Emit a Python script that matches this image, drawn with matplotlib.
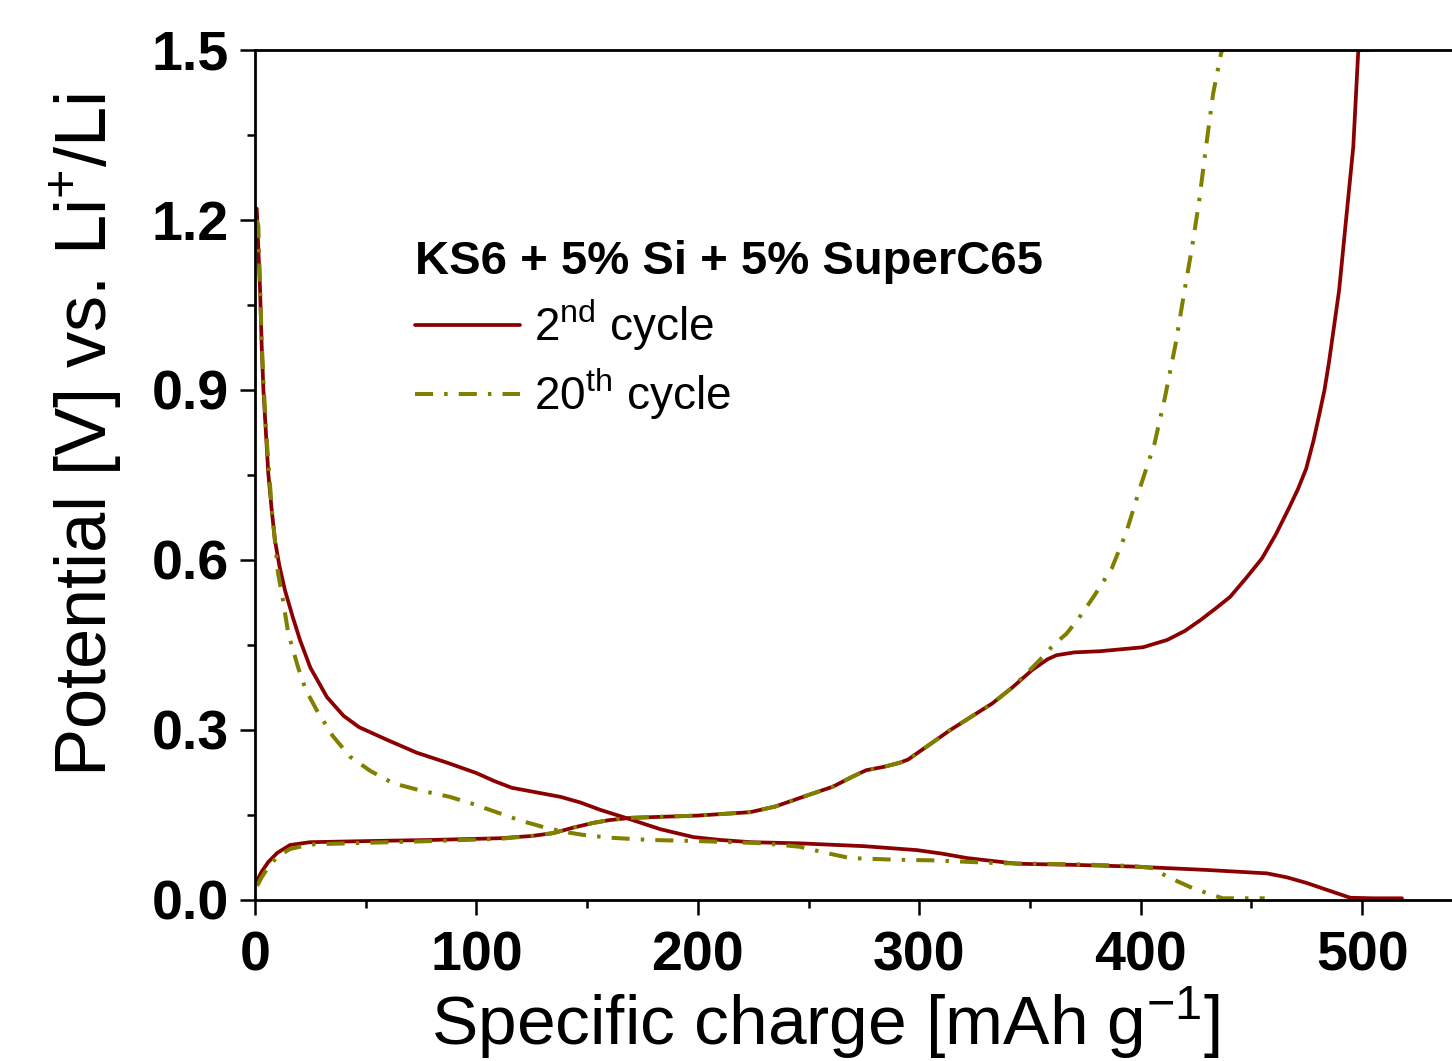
import matplotlib
matplotlib.use("Agg")
import matplotlib.pyplot as plt
from matplotlib.ticker import MultipleLocator

plt.rcParams['font.family'] = ['Liberation Sans', 'DejaVu Sans']
plt.rcParams['mathtext.fontset'] = 'custom'
plt.rcParams['mathtext.rm'] = 'Liberation Sans'
plt.rcParams['mathtext.it'] = 'Liberation Sans:italic'
plt.rcParams['mathtext.bf'] = 'Liberation Sans:bold'
plt.rcParams['lines.scale_dashes'] = False

# ---- data: 2nd cycle (red) ----
c2_dis_x = [0.8, 1.5, 2.3, 3, 3.8, 5, 6, 7.5, 9, 11, 13.5, 17, 20.3, 25, 32.5, 40, 47, 60, 73, 87, 100, 108, 116,
            127, 138, 147, 156, 169, 183, 198, 210, 224,
            246, 275, 299, 310, 321.6, 344, 370, 396.6, 430, 457, 466, 475, 484, 494.6, 505, 518]
c2_dis_y = [1.22, 1.15, 1.076, 0.98, 0.9, 0.82, 0.753, 0.69, 0.635, 0.59, 0.547, 0.5, 0.459, 0.41, 0.358, 0.325, 0.305, 0.282, 0.26, 0.242, 0.224, 0.21, 0.198,
            0.19, 0.182, 0.172, 0.159, 0.143, 0.125, 0.111, 0.106, 0.102,
            0.100, 0.095, 0.088, 0.082, 0.074, 0.064, 0.062, 0.059, 0.053, 0.047, 0.04, 0.03, 0.018, 0.004, 0.003, 0.003]
c2_ch_x = [1, 3, 6, 10, 15.8, 24.8, 50.6, 80, 110.6, 125, 134.6, 144, 152.7, 160, 170, 200, 223.6, 235, 246, 261, 270, 276,
           284, 291, 295, 299, 306, 314, 333, 342, 351, 358, 362, 370, 381.6, 401, 412, 420, 427, 434, 440.4, 448, 454.8,
           461, 467, 471, 474.7, 478, 480.6, 483, 485.1, 489.6, 492.8, 496, 498.2, 498.5, 502.7]
c2_ch_y = [0.035, 0.05, 0.067, 0.083, 0.097, 0.102, 0.104, 0.106, 0.109, 0.113, 0.118, 0.128, 0.136, 0.141, 0.145, 0.149, 0.155, 0.165, 0.18, 0.2, 0.218, 0.229,
           0.235, 0.242, 0.248, 0.259, 0.278, 0.3, 0.347, 0.375, 0.406, 0.425, 0.432, 0.437, 0.439, 0.446, 0.459, 0.475, 0.494, 0.515, 0.535, 0.57, 0.603,
           0.645, 0.692, 0.725, 0.761, 0.81, 0.856, 0.9, 0.951, 1.076, 1.203, 1.329, 1.495, 1.5, 1.5]

# ---- data: 20th cycle (olive) ----
c20_dis_x = [0.8, 1.5, 3, 4, 5.3, 7.5, 10.4, 12.6, 15, 19.5, 23, 27.9, 35, 42.9, 52, 62.4, 75, 88, 98, 109, 120, 130, 140, 148,
             160, 178, 200, 216, 230, 246, 258, 268.7, 290, 306, 336, 370, 396.6, 405.6, 412, 424, 437, 456]
c20_dis_y = [1.2, 1.19, 0.988, 0.9, 0.812, 0.694, 0.577, 0.53, 0.471, 0.41, 0.37, 0.335, 0.29, 0.253, 0.228, 0.206, 0.193, 0.182, 0.17, 0.155, 0.14, 0.129, 0.12, 0.115,
             0.11, 0.106, 0.104, 0.102, 0.1, 0.094, 0.083, 0.074, 0.071, 0.07, 0.065, 0.063, 0.06, 0.056, 0.041, 0.02, 0.003, 0.003]
c20_ch_x = [1, 3, 6, 10, 15.8, 24.8, 50.6, 80, 110.6, 125, 134.6, 144, 152.7, 160, 170, 200, 223.6, 235, 246, 261, 270, 276,
            284, 291, 295, 299, 306, 314, 333, 342, 351, 356, 360.6, 366.5, 372, 378.7, 386.9, 393.4, 399.9, 406.2, 411,
            415.8, 419.8, 423.2, 426.4, 429.5, 432.7, 436.4, 437]
c20_ch_y = [0.025, 0.04, 0.058, 0.076, 0.09, 0.098, 0.101, 0.104, 0.108, 0.113, 0.118, 0.128, 0.136, 0.141, 0.145, 0.149, 0.155, 0.165, 0.18, 0.2, 0.218, 0.229,
            0.235, 0.242, 0.248, 0.259, 0.278, 0.3, 0.347, 0.375, 0.41, 0.43, 0.45, 0.47, 0.497, 0.535, 0.585, 0.648, 0.73, 0.805, 0.888,
            0.982, 1.076, 1.152, 1.234, 1.329, 1.423, 1.496, 1.5]

legend_title = "KS6 + 5% Si + 5% SuperC65"
labels = ["2$^{\\mathrm{nd}}$ cycle", "20$^{\\mathrm{th}}$ cycle"]
x_ticks = [0, 100, 200, 300, 400, 500]
y_ticks = [0.0, 0.3, 0.6, 0.9, 1.2, 1.5]

red = "#8b0000"
olive = "#808000"

fig = plt.figure(figsize=(14.52, 10.61), dpi=100)
ax = fig.add_axes([255/1452, 161/1061, 1240/1452, 850/1061])

dd = (0, (13, 8, 2.5, 8))
kw_r = dict(color=red, lw=2.7, solid_joinstyle='round', solid_capstyle='round')
kw_o = dict(color=olive, lw=2.9, ls=dd)
l1, = ax.plot(c2_dis_x, c2_dis_y, label=labels[0], **kw_r)
ax.plot(c2_ch_x, c2_ch_y, **kw_r)
l2, = ax.plot(c20_dis_x, c20_dis_y, label=labels[1], **kw_o)
ax.plot(c20_ch_x, c20_ch_y, **kw_o)

ax.set_xlim(0, 560)
ax.set_ylim(0, 1.5)
ax.set_xticks(x_ticks)
ax.set_yticks(y_ticks)
ax.set_yticklabels([f"{v:.1f}" for v in y_ticks])
ax.xaxis.set_minor_locator(MultipleLocator(50))
ax.yaxis.set_minor_locator(MultipleLocator(0.15))
ax.tick_params(which='major', direction='out', length=11, width=1.8, labelsize=40, pad=8)
ax.tick_params(axis='x', which='major', pad=11)
ax.tick_params(which='minor', direction='out', length=6, width=1.8)
ax.tick_params(top=False, right=False, which='both')
for t in ax.get_xticklabels() + ax.get_yticklabels():
    t.set_fontweight('bold')
for s in ax.spines.values():
    s.set_linewidth(2.0)

ax.set_xlabel("Specific charge [mAh g$^{\\mathrm{-1}}$]", fontsize=50)
ax.xaxis.set_label_coords(0.46, -0.1)
ax.set_ylabel("Potential [V] vs. Li$^{\\mathrm{+}}$/Li", fontsize=52)
ax.yaxis.set_label_coords(-0.105, 0.547)

leg = ax.legend(handles=[l1, l2], labels=labels, title=legend_title, loc='upper left',
                bbox_to_anchor=(0.129, 0.776), frameon=False, fontsize=33,
                title_fontproperties={'weight': 'bold', 'size': 34},
                alignment='left', borderpad=0, borderaxespad=0,
                handlelength=2.3, handletextpad=0.3, labelspacing=0.3)

fig.savefig("out.png", dpi=100)
